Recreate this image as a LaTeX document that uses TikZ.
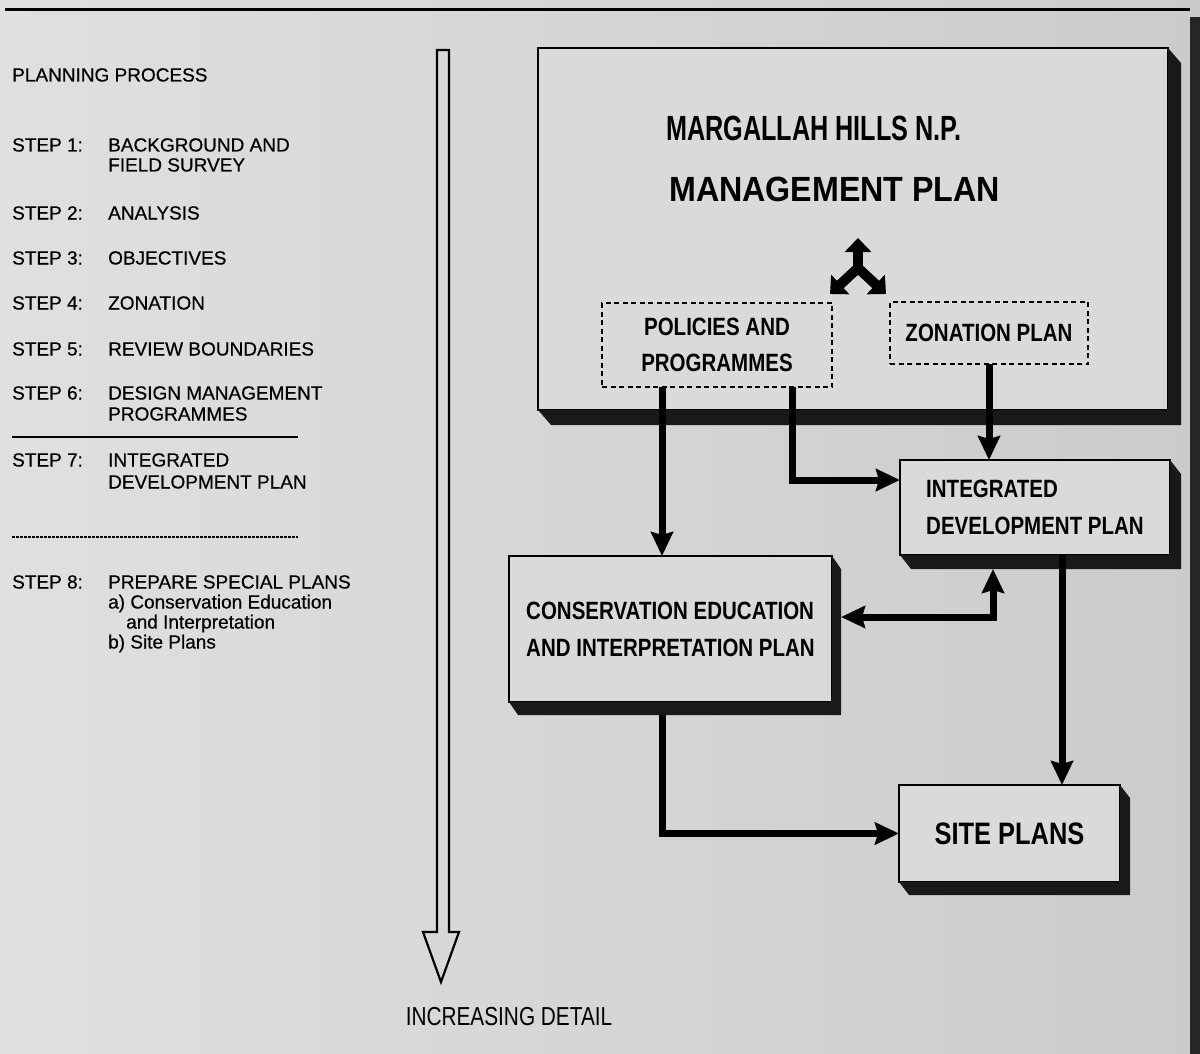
\documentclass[tikz,border=0pt]{standalone}
\usepackage{fontspec}
\setmainfont{Liberation Sans}
\newfontfamily\condf[FakeStretch=0.8]{Liberation Sans}
\newfontfamily\boxf[FakeStretch=0.82]{Liberation Sans}
\newfontfamily\titleA[FakeStretch=0.72]{Liberation Sans}
\newfontfamily\titleB[FakeStretch=0.92]{Liberation Sans}
\newfontfamily\listfont[FakeBold=0.5]{Liberation Sans}
\usetikzlibrary{arrows.meta,calc}
\definecolor{bgL}{HTML}{E0E0E0}
\definecolor{bgR}{HTML}{CBCBCB}
\definecolor{boxfill}{HTML}{DADADA}
\newcommand\boxshadow[3]{%
  \fill[black!90] (#1.south west) -- ($(#1.south west)+(#2,#3)$) -- ($(#1.south east)+(#2,#3)$)
    -- ($(#1.north east)+(#2,#3)$) -- (#1.north east) -- (#1.south east) -- cycle;}
\begin{document}
\begin{tikzpicture}[x=1pt,y=-1pt,
  plan/.style={draw=black, line width=1.8pt, fill=boxfill, rectangle, outer sep=0pt, inner sep=0pt},
  dbox/.style={draw=black, line width=2pt, dash pattern=on 5pt off 3.5pt, rectangle, outer sep=0pt, inner sep=0pt, align=center, font=\boxf\bfseries\fontsize{25}{36}\selectfont},
  boxtext/.style={align=left, font=\boxf\bfseries\fontsize{25}{37}\selectfont},
  steptext/.style={anchor=base west, inner sep=0pt, font=\listfont\fontsize{19}{22}\selectfont},
  conn/.style={line width=7pt, -{Stealth[length=24pt,width=22pt,inset=3pt]}},
  yarm/.style={line width=10pt, -{Triangle[length=14pt,width=26pt]}}
]
\useasboundingbox (0,0) rectangle (1200,1054);
\shade[left color=bgL, right color=bgR] (0,0) rectangle (1200,1054);
% page frame
\draw[line width=3pt] (5,10) -- (1190,10);
\fill[black!85] (1190,17) rectangle (1200,1054);

% left list
\node[steptext] (pp) at (12,81.5) {PLANNING PROCESS};
\node[steptext] (s1) at (12,151.5) {STEP 1:};
\node[steptext] (s1a) at (108,151.5) {BACKGROUND AND};
\node[steptext] (s1b) at (108,171.5) {FIELD SURVEY};
\node[steptext] (s2) at (12,219.5) {STEP 2:};
\node[steptext] (s2a) at (108,219.5) {ANALYSIS};
\node[steptext] (s3) at (12,264.5) {STEP 3:};
\node[steptext] (s3a) at (108,264.5) {OBJECTIVES};
\node[steptext] (s4) at (12,309.5) {STEP 4:};
\node[steptext] (s4a) at (108,309.5) {ZONATION};
\node[steptext] (s5) at (12,355.5) {STEP 5:};
\node[steptext] (s5a) at (108,355.5) {REVIEW BOUNDARIES};
\node[steptext] (s6) at (12,399.5) {STEP 6:};
\node[steptext] (s6a) at (108,399.5) {DESIGN MANAGEMENT};
\node[steptext] (s6b) at (108,420.5) {PROGRAMMES};
\draw[line width=1.6pt] (12,437) -- (298,437);
\node[steptext] (s7) at (12,466.5) {STEP 7:};
\node[steptext] (s7a) at (108,466.5) {INTEGRATED};
\node[steptext] (s7b) at (108,488.5) {DEVELOPMENT PLAN};
\draw[line width=1.6pt, dash pattern=on 3pt off 1pt] (12,537) -- (298,537);
\node[steptext] (s8) at (12,588.5) {STEP 8:};
\node[steptext] (s8a) at (108,588.5) {PREPARE SPECIAL PLANS};
\node[steptext] (s8b) at (108,608.5) {a) Conservation Education};
\node[steptext] (s8c) at (126,628.5) {and Interpretation};
\node[steptext] (s8d) at (108,648.5) {b) Site Plans};

% increasing detail arrow
\draw[line width=2.2pt, line join=miter] (437,50) -- (449,50) -- (449,932) -- (459,932) -- (441,982) -- (423,932) -- (437,932) -- cycle;
\node[font=\condf\fontsize{26}{30}\selectfont] (incr) at (509,1017) {INCREASING DETAIL};

% main box
\node[plan, minimum width=630, minimum height=362] (mgmt) at (853,229) {};
\boxshadow{mgmt}{13}{15}
\node[anchor=base west, inner sep=0pt, font=\titleA\bfseries\fontsize{35}{40}\selectfont] (t1) at (666,141) {MARGALLAH HILLS N.P.};
\node[anchor=base west, inner sep=0pt, font=\titleB\bfseries\fontsize{35}{40}\selectfont] (t2) at (669,201) {MANAGEMENT PLAN};

\node[dbox, minimum width=230, minimum height=84] (pol) at (717,345) {POLICIES AND\\PROGRAMMES};
\node[dbox, minimum width=198, minimum height=62] (zon) at (989,333) {ZONATION PLAN};

% three-way arrow
\coordinate (yj) at (858,268);
\draw[yarm] (yj) -- ++(0,-30);
\draw[yarm] (yj) -- ++(-28,26);
\draw[yarm] (yj) -- ++(28,26);

% other boxes
\node[plan, boxtext, minimum width=270, minimum height=95] (integ) at (1035,507.5) {INTEGRATED\\DEVELOPMENT PLAN};
\boxshadow{integ}{11}{14}
\node[plan, boxtext, minimum width=323, minimum height=146] (cons) at (670.5,629) {CONSERVATION EDUCATION\\AND INTERPRETATION PLAN};
\boxshadow{cons}{9}{13}
\node[plan, font=\boxf\bfseries\fontsize{31}{36}\selectfont, minimum width=221, minimum height=97] (site) at (1009.5,833.5) {SITE PLANS};
\boxshadow{site}{10}{13}

% connectors
\coordinate (p1) at ([xshift=-55pt]pol.south);
\coordinate (p2) at ([xshift=75pt]pol.south);
\coordinate (i4) at ($(integ.south)+(-42,14)$);
\coordinate (i5) at ($(integ.south)+(27,0)$);
\coordinate (c6) at ($(cons.south)+(-8.5,13)$);
\coordinate (ce) at ($(cons.east)+(9,-12)$);
\coordinate (iw) at ($(integ.west)+(0,-27.5)$);
\draw[conn] (p1) -- (p1 |- cons.north);
\draw[conn] (p2) |- (iw);
\draw[conn] (zon.south) -- (zon.south |- integ.north);
\draw[conn, {Stealth[length=24pt,width=22pt,inset=3pt]}-{Stealth[length=24pt,width=22pt,inset=3pt]}] (i4) |- (ce);
\draw[conn] (i5) -- (i5 |- site.north);
\draw[conn] (c6) |- (site.west);
\end{tikzpicture}
\end{document}
